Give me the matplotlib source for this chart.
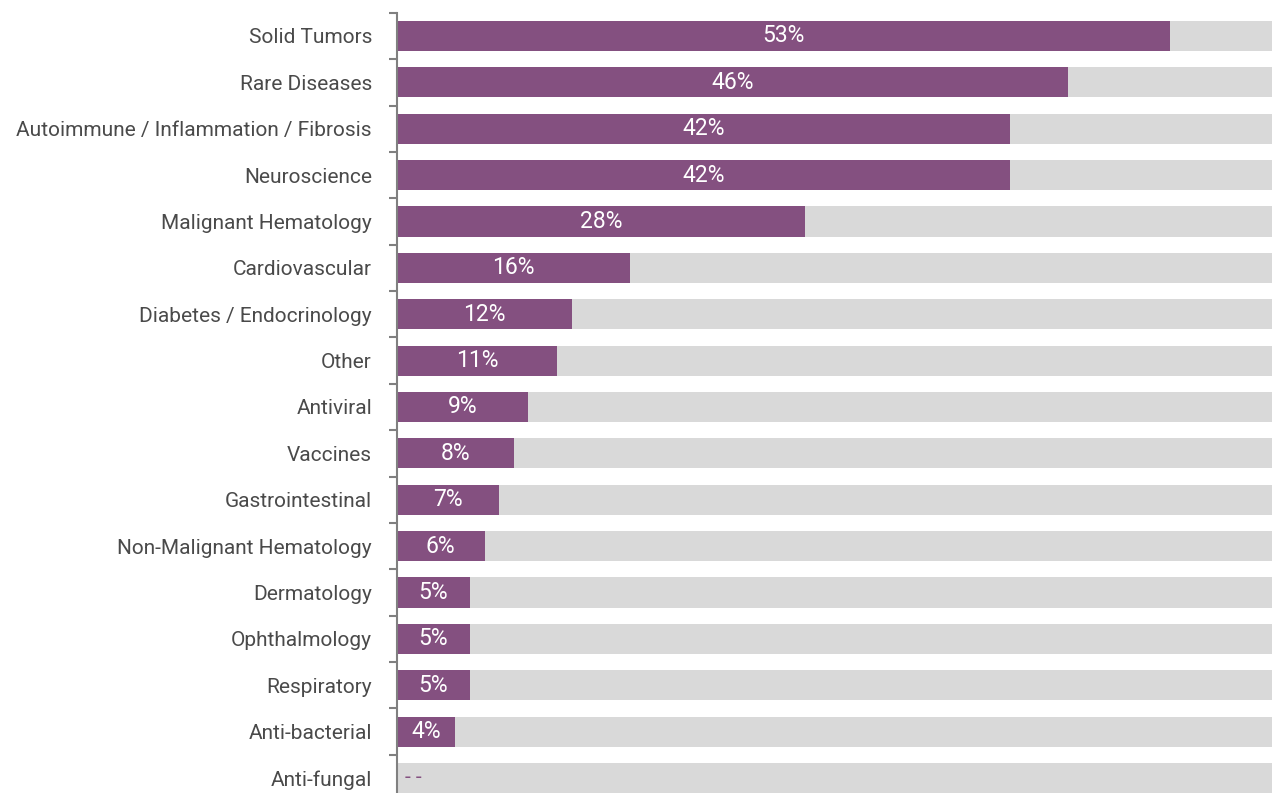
import matplotlib.pyplot as plt
from matplotlib.ticker import FixedLocator

categories = ["Solid Tumors", "Rare Diseases", "Autoimmune / Inflammation / Fibrosis",
              "Neuroscience", "Malignant Hematology", "Cardiovascular",
              "Diabetes / Endocrinology", "Other", "Antiviral", "Vaccines",
              "Gastrointestinal", "Non-Malignant Hematology", "Dermatology",
              "Ophthalmology", "Respiratory", "Anti-bacterial", "Anti-fungal"]
shares = [53, 46, 42, 42, 28, 16, 12, 11, 9, 8, 7, 6, 5, 5, 5, 4, 0]
track_max = 60

purple = "#845080"
track = "#d9d9d9"
axis_grey = "#808080"
text_grey = "#4a4a4a"

plt.rcParams['font.family'] = ['Roboto', 'DejaVu Sans']

fig = plt.figure(figsize=(12.73, 7.93), dpi=100)
ax = fig.add_axes([397 / 1273, -0.0103, (1272 - 397) / 1273, 0.9942])

ypos = list(range(len(categories)))
ax.barh(ypos, [track_max] * len(categories), height=0.65, color=track, zorder=1)
ax.barh(ypos, shares, height=0.65, color=purple, zorder=2)

for y, v in zip(ypos, shares):
    if v > 0:
        ax.text(v / 2, y, f"{v}%", ha="center", va="center", color="white",
                fontsize=16.5, zorder=3)
    else:
        # no share: dash placeholder instead of a bar label
        ax.text(0.55, y, "- -", ha="left", va="center", color=purple,
                fontsize=15, zorder=3)

ax.set_xlim(0, track_max)
ax.set_ylim(len(categories) - 0.5, -0.5)
ax.set_yticks(ypos)
ax.set_yticklabels(categories, fontsize=15, color=text_grey)
ax.yaxis.set_minor_locator(FixedLocator([i - 0.5 for i in range(len(categories) + 1)]))
ax.tick_params(axis="y", which="major", length=0, pad=18)
ax.tick_params(axis="y", which="minor", length=6, width=1.5, color=axis_grey)
ax.set_xticks([])

for side in ["top", "right", "bottom"]:
    ax.spines[side].set_visible(False)
ax.spines["left"].set_color(axis_grey)
ax.spines["left"].set_linewidth(1.5)

fig.savefig("out.png", dpi=100)
